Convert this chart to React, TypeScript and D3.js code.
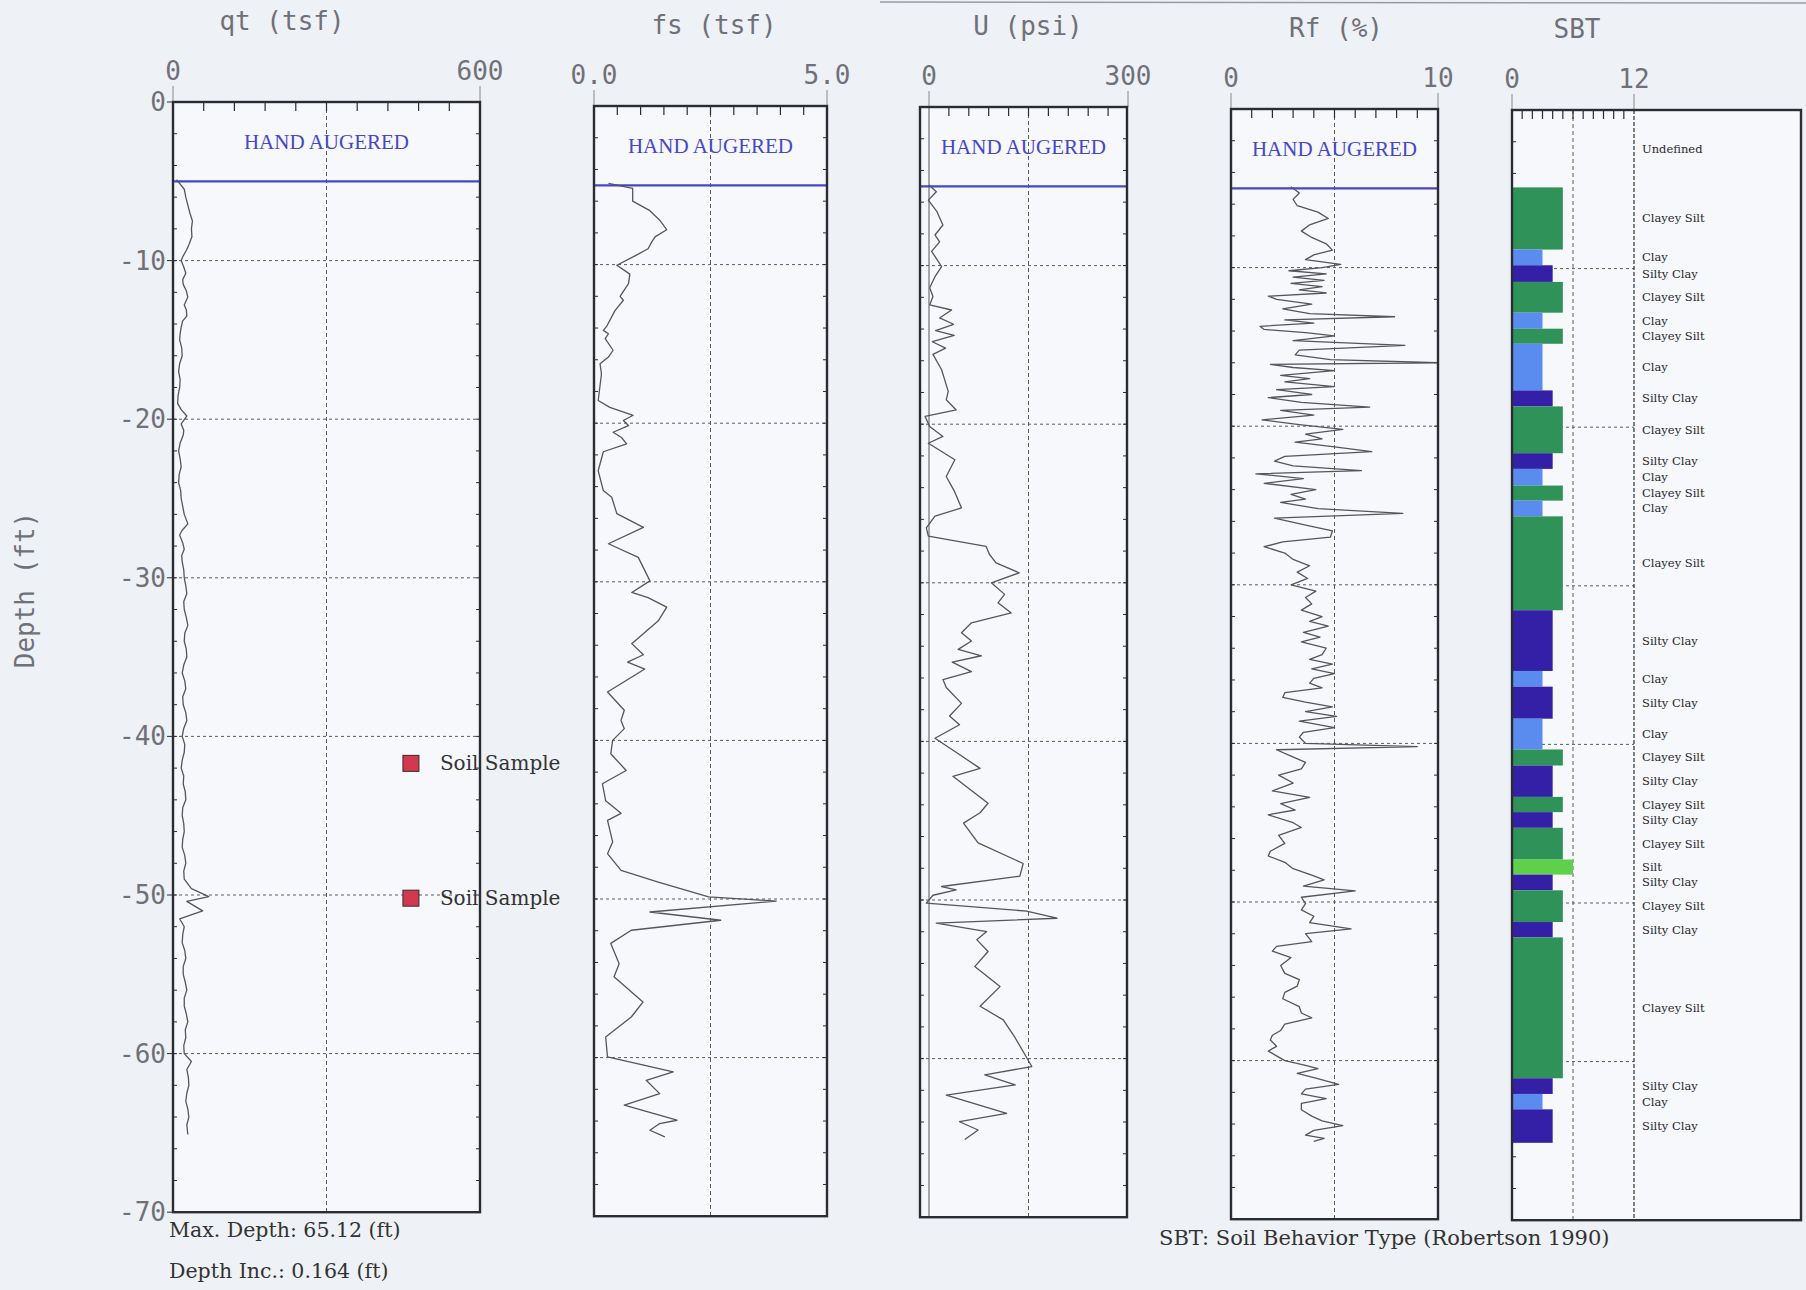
import React from 'react';
import * as d3 from 'd3';

const W = 1806;
const H = 1290;

// ---------- data ----------
const depthTickValues = [0, 10, 20, 30, 40, 50, 60, 70];
const depthTickLabels = ['0', '-10', '-20', '-30', '-40', '-50', '-60', '-70'];
const handAugerDepth = 5;

const qtData: [number, number][] = [
  [4.9, 7], [5.5, 22], [6.0, 25], [6.5, 29], [7.0, 33], [7.5, 38], [8.0, 36], [8.5, 37], [9.0, 31], [9.3, 27], [9.7, 20], [10.0, 16],
  [10.4, 21], [10.8, 25], [11.2, 19], [11.5, 20], [11.9, 26], [12.3, 29], [12.8, 22], [13.1, 26], [13.5, 27], [13.8, 19], [14.2, 16],
  [14.6, 14], [15.0, 13], [15.5, 17], [16.0, 18], [16.5, 13], [17.0, 11], [17.5, 14], [18.0, 13], [18.5, 10], [19.0, 9], [19.4, 16],
  [19.8, 27], [20.3, 16], [20.7, 21], [21.0, 20], [21.5, 14], [22.0, 11], [22.5, 14], [23.0, 16], [23.5, 12], [24.0, 11], [24.5, 15],
  [25.0, 16], [25.5, 19], [26.0, 22], [26.6, 29], [27.0, 18], [27.3, 13], [27.8, 19], [28.2, 22], [28.6, 17], [29.0, 18], [29.5, 21],
  [30.0, 22], [30.5, 25], [31.0, 27], [31.5, 21], [32.0, 22], [32.5, 26], [33.0, 29], [33.5, 23], [34.0, 22], [34.5, 26], [35.0, 27],
  [35.5, 21], [36.0, 18], [36.5, 23], [37.0, 25], [37.5, 19], [38.0, 20], [38.5, 25], [39.0, 27], [39.5, 21], [40.0, 18], [40.5, 23],
  [41.0, 22], [41.5, 18], [42.0, 16], [42.5, 21], [43.0, 20], [43.5, 24], [44.0, 25], [44.5, 19], [45.0, 18], [45.5, 21], [46.0, 22],
  [46.5, 19], [47.0, 18], [47.5, 23], [48.0, 25], [48.5, 21], [49.0, 22], [49.6, 36], [50.1, 70], [50.4, 27], [51.0, 58], [51.5, 13],
  [52.0, 22], [52.5, 19], [53.0, 18], [53.5, 23], [54.0, 25], [54.5, 20], [55.0, 20], [55.5, 24], [56.0, 27], [56.5, 22], [57.0, 22],
  [57.5, 26], [58.0, 29], [58.5, 24], [59.0, 25], [59.5, 21], [60.0, 22], [60.5, 36], [61.0, 27], [61.5, 30], [62.0, 31], [62.5, 27],
  [63.0, 25], [63.5, 29], [64.0, 31], [64.5, 27], [65.1, 29],
];

const fsData: [number, number][] = [
  [4.88, 0.31], [5.2, 0.83], [6.0, 0.83], [6.6, 1.2], [7.2, 1.41], [7.8, 1.56], [8.25, 1.31], [8.57, 1.24], [9.0, 1.16], [9.4, 0.91],
  [10.04, 0.49], [10.6, 0.77], [11.2, 0.74], [12.0, 0.56], [12.25, 0.63], [12.9, 0.45], [13.9, 0.27], [14.15, 0.2], [14.36, 0.31],
  [14.67, 0.24], [15.4, 0.41], [15.83, 0.31], [16.25, 0.13], [16.9, 0.16], [18.57, 0.09], [19.0, 0.34], [19.5, 0.84], [19.83, 0.63],
  [20.15, 0.74], [20.57, 0.41], [20.9, 0.59], [21.3, 0.7], [21.8, 0.2], [23.0, 0.09], [24.25, 0.2], [24.67, 0.38], [25.7, 0.49],
  [26.57, 1.06], [27.6, 0.31], [28.46, 0.95], [29.94, 1.2], [30.67, 0.81], [31.0, 1.16], [31.6, 1.56], [32.46, 1.38], [33.9, 0.81],
  [34.6, 1.06], [35.06, 0.72], [35.5, 1.09], [36.95, 0.29], [38.1, 0.65], [38.74, 0.58], [39.26, 0.65], [40.0, 0.4], [40.84, 0.36],
  [41.9, 0.69], [42.73, 0.18], [43.8, 0.25], [44.6, 0.58], [45.04, 0.29], [46.4, 0.4], [47.14, 0.29], [48.2, 0.58], [48.93, 1.38],
  [49.87, 2.46], [50.13, 3.91], [50.82, 1.2], [51.34, 2.72], [51.97, 0.8], [52.8, 0.36], [54.08, 0.54], [54.9, 0.43], [56.5, 1.05],
  [57.44, 0.8], [58.7, 0.25], [59.96, 0.29], [60.9, 1.7], [61.43, 1.12], [62.27, 1.41], [63.0, 0.65], [63.95, 1.78], [64.16, 1.41],
  [64.58, 1.2], [65.0, 1.52],
];

const uData: [number, number][] = [
  [4.92, 0], [5.34, 11], [5.87, -1], [6.6, 12], [7.44, 21], [8.07, 9], [8.5, 16], [9.1, 4], [10.06, 19], [10.7, 9], [11.4, 1],
  [11.95, 6], [12.48, 1], [12.8, 34], [13.3, 16], [13.7, 37], [14.1, 10], [14.4, 38], [14.8, 5], [15.2, 25], [15.6, 6], [16.57, 19],
  [17.93, 29], [18.46, 26], [19.1, 41], [19.5, -6], [20.14, 1], [20.77, 21], [21.2, -1], [22.24, 39], [23.3, 26], [24.2, 38],
  [25.28, 49], [25.8, 9], [26.54, -4], [27.06, -1], [27.7, 86], [28.2, 91], [28.74, 101], [29.37, 136], [30.0, 94], [30.73, 114],
  [31.26, 104], [31.9, 124], [32.52, 64], [33.15, 49], [33.67, 64], [34.2, 44], [34.6, 79], [35.0, 35], [35.6, 64], [36.1, 21],
  [36.6, 26], [37.6, 49], [38.4, 31], [38.95, 46], [39.8, 9], [40.5, 34], [41.7, 77], [42.2, 36], [43.9, 89], [44.5, 77], [45.15, 52],
  [46.4, 74], [47.7, 142], [48.5, 137], [49.15, 19], [49.36, 41], [49.7, 6], [50.2, -4], [50.7, 147], [51.15, 193], [51.46, 11],
  [51.99, 87], [52.5, 72], [53.25, 89], [54.2, 69], [55.46, 107], [56.7, 77], [57.56, 112], [58.7, 130], [60.5, 155], [61.03, 84],
  [61.66, 130], [62.3, 26], [63.45, 117], [63.98, 46], [64.5, 74], [65.1, 54],
];

const rfData: [number, number][] = [
  [4.9, 2.9], [5.3, 3.3], [5.7, 3.0], [6.1, 3.2], [6.5, 4.2], [6.9, 4.7], [7.3, 3.8], [7.7, 3.4], [8.1, 3.9], [8.5, 4.6], [8.9, 4.9],
  [9.2, 4.0], [9.5, 3.6], [9.8, 5.3], [10.0, 4.4], [10.2, 2.8], [10.4, 4.6], [10.6, 3.0], [10.8, 4.5], [11.0, 2.9], [11.2, 4.4],
  [11.4, 3.3], [11.6, 4.6], [11.8, 1.8], [12.0, 2.2], [12.3, 3.9], [12.6, 2.5], [12.9, 3.8], [13.1, 7.9], [13.3, 2.6], [13.5, 4.0],
  [13.7, 1.4], [13.9, 1.6], [14.1, 3.6], [14.3, 5.0], [14.6, 3.0], [14.9, 8.4], [15.2, 3.3], [15.5, 3.1], [15.8, 4.8], [16.0, 10.0],
  [16.1, 1.9], [16.3, 3.0], [16.5, 5.0], [16.8, 2.4], [17.0, 3.8], [17.2, 2.6], [17.5, 5.0], [17.7, 2.2], [18.0, 3.9], [18.2, 1.8],
  [18.5, 3.4], [18.8, 6.7], [19.0, 2.4], [19.3, 4.0], [19.6, 1.5], [19.9, 3.3], [20.2, 5.4], [20.5, 3.6], [20.8, 4.4], [21.0, 3.1],
  [21.3, 5.0], [21.6, 6.8], [21.9, 2.6], [22.2, 2.1], [22.5, 3.0], [22.8, 6.3], [23.0, 1.2], [23.3, 3.5], [23.6, 1.6], [24.0, 4.1],
  [24.3, 2.9], [24.6, 3.6], [24.8, 2.4], [25.2, 4.2], [25.5, 8.3], [25.8, 2.1], [26.2, 3.5], [26.6, 4.9], [27.0, 4.8], [27.3, 2.5],
  [27.6, 1.6], [28.0, 2.6], [28.4, 3.0], [28.8, 3.8], [29.2, 3.2], [29.6, 3.7], [30.0, 2.9], [30.4, 4.1], [30.8, 3.6], [31.2, 3.9],
  [31.6, 3.4], [32.0, 4.4], [32.3, 3.8], [32.6, 4.7], [33.0, 3.5], [33.3, 4.3], [33.6, 3.4], [34.0, 4.6], [34.4, 4.4], [34.7, 3.8],
  [35.0, 4.9], [35.3, 3.9], [35.6, 5.0], [35.9, 4.0], [36.2, 3.8], [36.5, 4.4], [36.8, 2.6], [37.1, 2.5], [37.4, 3.6], [37.7, 4.9],
  [38.0, 3.6], [38.3, 5.1], [38.6, 3.3], [39.0, 5.0], [39.3, 3.5], [39.6, 3.3], [40.0, 3.6], [40.2, 9.0], [40.4, 2.2], [40.8, 2.9],
  [41.2, 3.6], [41.6, 3.4], [42.0, 2.3], [42.5, 3.0], [43.0, 2.0], [43.4, 3.8], [43.8, 2.4], [44.2, 3.1], [44.5, 1.8], [45.0, 3.0],
  [45.3, 3.4], [45.8, 2.3], [46.3, 2.6], [46.8, 1.9], [47.1, 1.8], [47.5, 2.6], [47.9, 3.0], [48.3, 3.9], [48.6, 4.5], [49.0, 3.5],
  [49.3, 6.0], [49.7, 3.4], [50.1, 3.6], [50.5, 3.4], [50.9, 4.0], [51.3, 3.8], [51.7, 5.8], [52.0, 3.6], [52.5, 3.9], [52.8, 2.2],
  [53.1, 2.0], [53.5, 2.9], [54.0, 2.4], [54.5, 2.6], [54.9, 3.3], [55.3, 3.2], [55.7, 2.6], [56.1, 2.5], [56.6, 3.3], [57.0, 3.4],
  [57.3, 3.9], [57.7, 2.6], [58.1, 2.4], [58.4, 2.0], [58.7, 1.9], [59.1, 2.2], [59.4, 1.8], [59.7, 2.2], [60.0, 2.6], [60.3, 3.6],
  [60.5, 4.2], [60.8, 3.2], [61.1, 4.1], [61.5, 5.2], [61.8, 3.6], [62.1, 3.4], [62.4, 4.6], [62.7, 3.4], [63.1, 3.4], [63.5, 3.9],
  [63.8, 4.4], [64.1, 5.4], [64.4, 4.0], [64.7, 3.6], [64.9, 4.5], [65.1, 4.0],
];

const sbtBounds = [0, 4.88, 8.8, 9.79, 10.84, 12.78, 13.79, 14.74, 17.68, 18.69, 21.64, 22.63, 23.68, 24.63, 25.62, 31.54, 35.37,
  36.36, 38.38, 40.32, 41.33, 43.31, 44.27, 45.26, 47.26, 48.21, 49.2, 51.2, 52.17, 61.05, 62.04, 63.01, 65.12];
const sbtTypes = ['Undefined', 'Clayey Silt', 'Clay', 'Silty Clay', 'Clayey Silt', 'Clay', 'Clayey Silt', 'Clay', 'Silty Clay',
  'Clayey Silt', 'Silty Clay', 'Clay', 'Clayey Silt', 'Clay', 'Clayey Silt', 'Silty Clay', 'Clay', 'Silty Clay', 'Clay',
  'Clayey Silt', 'Silty Clay', 'Clayey Silt', 'Silty Clay', 'Clayey Silt', 'Silt', 'Silty Clay', 'Clayey Silt', 'Silty Clay',
  'Clayey Silt', 'Silty Clay', 'Clay', 'Silty Clay'];
const sbtZone: Record<string, number> = { Undefined: 0, Clay: 3, 'Silty Clay': 4, 'Clayey Silt': 5, Silt: 6 };
const sbtColor: Record<string, string> = {
  Undefined: 'none', Clay: '#5a8cf0', 'Silty Clay': '#3320a6', 'Clayey Silt': '#2f9258', Silt: '#5fd04a',
};

const soilSampleDepths = [41.7, 50.2];
const soilSampleQt = 465;

// ---------- layout ----------
const FT = 15.86;
const MONO = '"DejaVu Sans Mono", monospace';
const SERIF = '"Liberation Serif", "DejaVu Serif", serif';
const WSERIF = '"DejaVu Serif", serif';
const GRID = '#5a5a6a';
const FRAME = '#2c2c34';
const BLUE = '#4646c8';

type Panel = {
  key: string; title: string; titleX: number; top: number;
  frameL: number; frameR: number; domain: [number, number]; range: [number, number];
  ticks: string[]; minor: number; grid: number; data?: [number, number][];
};

const panels: Panel[] = [
  { key: 'qt', title: 'qt (tsf)', titleX: 282, top: 102, frameL: 173, frameR: 480, domain: [0, 600], range: [173, 480], ticks: ['0', '600'], minor: 60, grid: 300, data: qtData },
  { key: 'fs', title: 'fs (tsf)', titleX: 714, top: 106, frameL: 594, frameR: 827, domain: [0, 5], range: [594, 827], ticks: ['0.0', '5.0'], minor: 0.5, grid: 2.5, data: fsData },
  { key: 'u', title: 'U (psi)', titleX: 1028, top: 107, frameL: 920, frameR: 1127, domain: [0, 300], range: [929, 1128], ticks: ['0', '300'], minor: 30, grid: 150, data: uData },
  { key: 'rf', title: 'Rf (%)', titleX: 1336, top: 109, frameL: 1231, frameR: 1438, domain: [0, 10], range: [1231, 1438], ticks: ['0', '10'], minor: 1, grid: 5, data: rfData },
  { key: 'sbt', title: 'SBT', titleX: 1577, top: 110, frameL: 1512, frameR: 1801, domain: [0, 12], range: [1512, 1634], ticks: ['0', '12'], minor: 1, grid: 6 },
];

function PanelView({ p }: { p: Panel }) {
  const x = d3.scaleLinear().domain(p.domain).range(p.range);
  const y = d3.scaleLinear().domain([0, 70]).range([p.top, p.top + 70 * FT]);
  const bottom = y(70);
  const [d0, d1] = p.domain;
  const minorTicks = d3.range(d0 + p.minor, d1 - p.minor / 2, p.minor);
  const depthMinor = d3.range(2, 70, 2);
  const gridRight = p.key === 'sbt' ? x(12) : p.frameR;
  const line = d3.line<[number, number]>().x(d => x(d[1])).y(d => y(d[0]));
  const isSbt = p.key === 'sbt';

  return (
    <g>
      <rect x={p.frameL} y={p.top} width={p.frameR - p.frameL} height={bottom - p.top} fill="#f6f8fb" />
      <text x={p.titleX} y={p.top - 72} textAnchor="middle" fontFamily={MONO} fontSize={26} fill="#707078">{p.title}</text>
      <text x={x(d0)} y={p.top - 22} textAnchor="middle" fontFamily={MONO} fontSize={26} fill="#707078">{p.ticks[0]}</text>
      <text x={x(d1)} y={p.top - 22} textAnchor="middle" fontFamily={MONO} fontSize={26} fill="#707078">{p.ticks[1]}</text>
      <line x1={x(d0)} x2={x(d0)} y1={p.top - 16} y2={p.top} stroke="#888" strokeWidth={1} />
      <line x1={x(d1)} x2={x(d1)} y1={p.top - 16} y2={p.top} stroke="#888" strokeWidth={1} />
      {depthTickValues.slice(1, -1).map(d => (
        <line key={'h' + d} x1={p.frameL} x2={gridRight} y1={y(d)} y2={y(d)} stroke={GRID} strokeWidth={1} strokeDasharray="3,3" />
      ))}
      <line x1={x(p.grid)} x2={x(p.grid)} y1={p.top} y2={bottom} stroke={GRID} strokeWidth={1} strokeDasharray="4,3" />
      {isSbt && (
        <line x1={x(12)} x2={x(12)} y1={p.top} y2={bottom} stroke="#3a3a48" strokeWidth={1.3} strokeDasharray="4,2" />
      )}
      {p.key === 'u' && (
        <line x1={x(0)} x2={x(0)} y1={p.top} y2={bottom} stroke="#555" strokeWidth={1} />
      )}
      {minorTicks.map(v => (
        <line key={'t' + v} x1={x(v)} x2={x(v)} y1={p.top} y2={p.top + 9} stroke={FRAME} strokeWidth={1.2} />
      ))}
      {depthMinor.map(d => (
        <g key={'dm' + d}>
          <line x1={p.frameL} x2={p.frameL + 4} y1={y(d)} y2={y(d)} stroke={FRAME} strokeWidth={1} />
          {!isSbt && <line x1={p.frameR - 4} x2={p.frameR} y1={y(d)} y2={y(d)} stroke={FRAME} strokeWidth={1} />}
        </g>
      ))}
      {!isSbt && (
        <g>
          <text x={(p.frameL + p.frameR) / 2} y={p.top + 47} textAnchor="middle" fontFamily={SERIF} fontSize={21} fill={BLUE}>HAND AUGERED</text>
          <line x1={p.frameL} x2={p.frameR} y1={y(handAugerDepth)} y2={y(handAugerDepth)} stroke={BLUE} strokeWidth={2.2} />
        </g>
      )}
      {p.data && (
        <path d={line(p.data) || ''} fill="none" stroke="#55555f" strokeWidth={1.3} strokeLinejoin="round" />
      )}
      {isSbt && sbtTypes.map((t, i) => {
        const top = sbtBounds[i];
        const bot = sbtBounds[i + 1];
        return (
          <g key={'s' + i}>
            {sbtZone[t] > 0 && (
              <rect x={x(0)} y={y(top)} width={x(sbtZone[t]) - x(0)} height={y(bot) - y(top)} fill={sbtColor[t]} />
            )}
            <text x={x(12) + 8} y={y((top + bot) / 2) + 4} fontFamily={WSERIF} fontSize={11.5} fill="#26262e">{t}</text>
          </g>
        );
      })}
      <rect x={p.frameL} y={p.top} width={p.frameR - p.frameL} height={bottom - p.top} fill="none" stroke={FRAME} strokeWidth={2.4} />
    </g>
  );
}

export default function App() {
  const qt = panels[0];
  const yq = d3.scaleLinear().domain([0, 70]).range([qt.top, qt.top + 70 * FT]);
  const xq = d3.scaleLinear().domain(qt.domain).range(qt.range);
  return (
    <svg width={W} height={H} viewBox={`0 0 ${W} ${H}`} style={{ display: 'block', position: 'absolute', left: 0, top: 0 }}>
      <rect x={0} y={0} width={W} height={H} fill="#eef1f5" />
      <line x1={880} x2={W} y1={2} y2={3} stroke="#9a9aa4" strokeWidth={1.5} />
      {panels.map(p => <PanelView key={p.key} p={p} />)}
      {depthTickValues.map((d, i) => (
        <g key={'dl' + d}>
          <line x1={qt.frameL - 6} x2={qt.frameL} y1={yq(d)} y2={yq(d)} stroke={FRAME} strokeWidth={1} />
          <text x={qt.frameL - 7} y={yq(d) + 9} textAnchor="end" fontFamily={MONO} fontSize={26} fill="#707078">{depthTickLabels[i]}</text>
        </g>
      ))}
      <text transform={`translate(34,590) rotate(-90)`} textAnchor="middle" fontFamily={MONO} fontSize={26} fill="#707078">Depth (ft)</text>
      {soilSampleDepths.map(d => (
        <g key={'ss' + d}>
          <rect x={xq(soilSampleQt) - 8} y={yq(d) - 8} width={16} height={16} fill="#d2384e" stroke="#3a2a30" strokeWidth={1} />
          <text x={xq(soilSampleQt) + 29} y={yq(d) + 7} fontFamily={WSERIF} fontSize={20} fill="#333">Soil Sample</text>
        </g>
      ))}
      <text x={169} y={1237} fontFamily={WSERIF} fontSize={20.5} fill="#333">Max. Depth: 65.12 (ft)</text>
      <text x={169} y={1278} fontFamily={WSERIF} fontSize={20.5} fill="#333">Depth Inc.: 0.164 (ft)</text>
      <text x={1159} y={1245} fontFamily={WSERIF} fontSize={21} fill="#333">SBT: Soil Behavior Type (Robertson 1990)</text>
    </svg>
  );
}
